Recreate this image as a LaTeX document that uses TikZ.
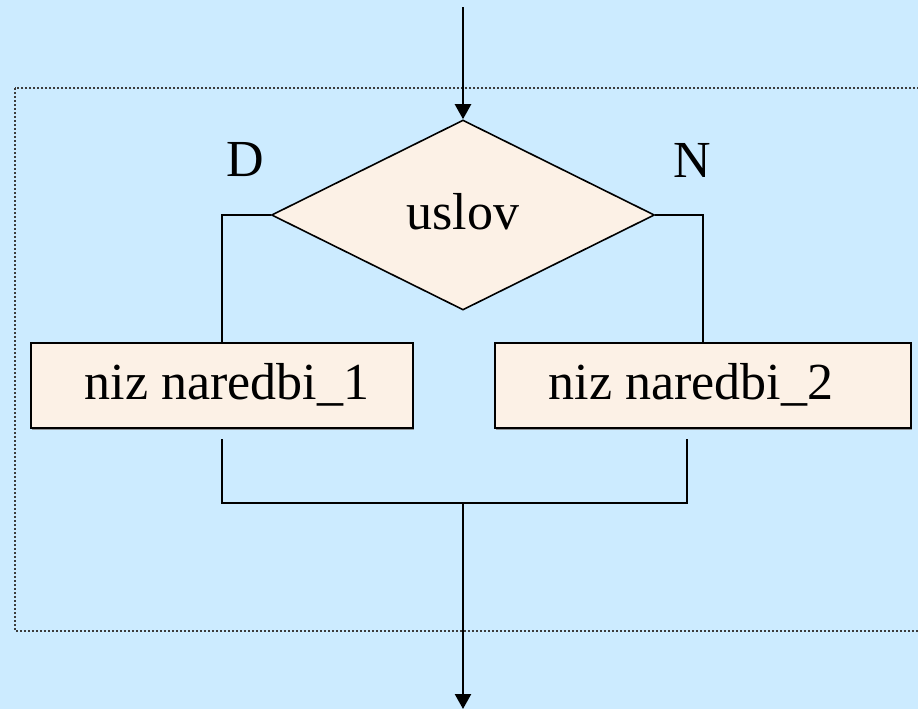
\documentclass[tikz,border=0pt]{standalone}
\usepackage{fontspec}
\setmainfont{Liberation Serif}
\usetikzlibrary{shapes.geometric,arrows.meta,shadows}

\definecolor{pozadina}{RGB}{204,235,255}
\definecolor{blokboja}{RGB}{252,241,230}
\definecolor{okvir}{RGB}{60,60,60}

\tikzset{
    blok/.style={draw, line width=1.2pt, fill=blokboja, inner sep=0pt,
        minimum height=42.5pt, font=\fontsize{26}{30}\selectfont,
        drop shadow={shadow xshift=0.4pt, shadow yshift=-0.8pt, fill=gray, opacity=0.8}},
    odluka/.style={diamond, draw, line width=0.8pt, fill=blokboja, inner sep=0pt,
        minimum width=191.5pt, minimum height=95pt, font=\fontsize{26}{30}\selectfont},
    tok/.style={line width=1.2pt},
    strelica/.style={tok, -{Triangle[length=7.5pt,width=8pt]}},
}

\begin{document}
\begin{tikzpicture}[x=0.5pt, y=-0.5pt]
            \fill[pozadina] (0,0) rectangle (918,709);
            \useasboundingbox (0,0) rectangle (918,709);
            \clip (0,0) rectangle (918,709);

            % dotted frame around the whole if-else block
            \draw[okvir, line width=0.9pt, dash pattern=on 0.9pt off 1.1pt] (15,88) rectangle (940,631);

            \node[odluka] (uslov) at (463,215) {};
            \node (uslovlab) at (463,212) {\fontsize{26}{30}\selectfont uslov};

            \node[blok, minimum width=191pt] (niz1) at (222,385.5) {};
            \node[blok, minimum width=208pt] (niz2) at (703,385.5) {};
            \node (niz1lab) at (227,385) {\fontsize{26}{30}\selectfont niz naredbi\_1};
            \node (niz2lab) at (691,385) {\fontsize{26}{30}\selectfont niz naredbi\_2};

            \node (da) at (245,160) {\fontsize{26}{30}\selectfont D};
            \node (ne) at (692,160) {\fontsize{26}{30}\selectfont N};

            \coordinate (ulaz) at (463,7);
            \coordinate (l1) at (222,439);
            \coordinate (r1) at (687,439);
            \coordinate (spoj) at (463,503);
            \coordinate (izlaz) at (463,709);

            \draw[strelica] (ulaz) to (uslov.north);
            \draw[tok] (uslov.west) -| (niz1.north);
            \draw[tok] (uslov.east) -| (niz2.north);
            \draw[tok] (l1) |- (spoj) -| (r1);
            \draw[strelica] (spoj) to (izlaz);
        \end{tikzpicture}
\end{document}
